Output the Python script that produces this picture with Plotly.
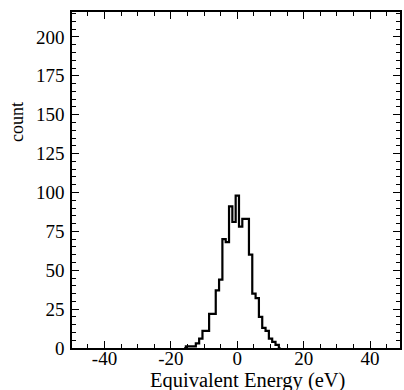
import plotly.graph_objects as go

# Bin centers (eV, 1 eV wide bins) and counts
energy_ev = list(range(-16, 14))
counts = [0, 1, 1, 1, 3, 6, 11, 11, 22, 22, 37, 44, 70, 68, 91, 81, 98,
          78, 83, 83, 60, 35, 32, 20, 13, 11, 6, 4, 2, 0]

x_tick_vals = [-40, -20, 0, 20, 40]
x_tick_text = ["-40", "-20", "0", "20", "40"]
y_tick_vals = [0, 25, 50, 75, 100, 125, 150, 175, 200]
y_tick_text = ["0", "25", "50", "75", "100", "125", "150", "175", "200"]

x_title = "Equivalent Energy (eV)"
y_title = "count"

FONT = "Liberation Serif, Times New Roman, serif"

fig = go.Figure()
fig.add_trace(go.Scatter(
    x=energy_ev, y=counts, mode="lines",
    line=dict(color="black", width=2.2, shape="hvh"),
    showlegend=False, hoverinfo="skip",
))

axis_common = dict(
    showline=True, linecolor="black", linewidth=1.5, mirror="ticks",
    ticks="inside", ticklen=7, tickwidth=1.3, tickcolor="black",
    showgrid=False, zeroline=False,
    tickfont=dict(family=FONT, size=19, color="black"),
)

fig.update_xaxes(
    range=[-49.8, 49.0], tickmode="array", tickvals=x_tick_vals, ticktext=x_tick_text,
    minor=dict(dtick=5, ticklen=4, ticks="inside", tickcolor="black", tickwidth=1.2),
    ticklabelstandoff=-8,
    **axis_common,
)
fig.update_yaxes(
    range=[0, 216], tickmode="array", tickvals=y_tick_vals, ticktext=y_tick_text,
    minor=dict(dtick=5, ticklen=4, ticks="inside", tickcolor="black", tickwidth=1.2),
    ticklabelstandoff=2,
    **axis_common,
)

fig.add_annotation(
    text=x_title, xref="paper", yref="paper", x=0.536, y=-0.097,
    xanchor="center", yanchor="middle", showarrow=False,
    font=dict(family=FONT, size=20.5, color="black"),
)
fig.add_annotation(
    text=y_title, xref="paper", yref="paper", x=-0.167, y=0.673,
    xanchor="center", yanchor="middle", showarrow=False, textangle=-90,
    font=dict(family=FONT, size=18, color="black"),
)

fig.update_layout(
    width=404, height=390,
    margin=dict(l=72, r=2, t=12, b=42),
    paper_bgcolor="white", plot_bgcolor="white",
)

fig.write_html("out.html")
